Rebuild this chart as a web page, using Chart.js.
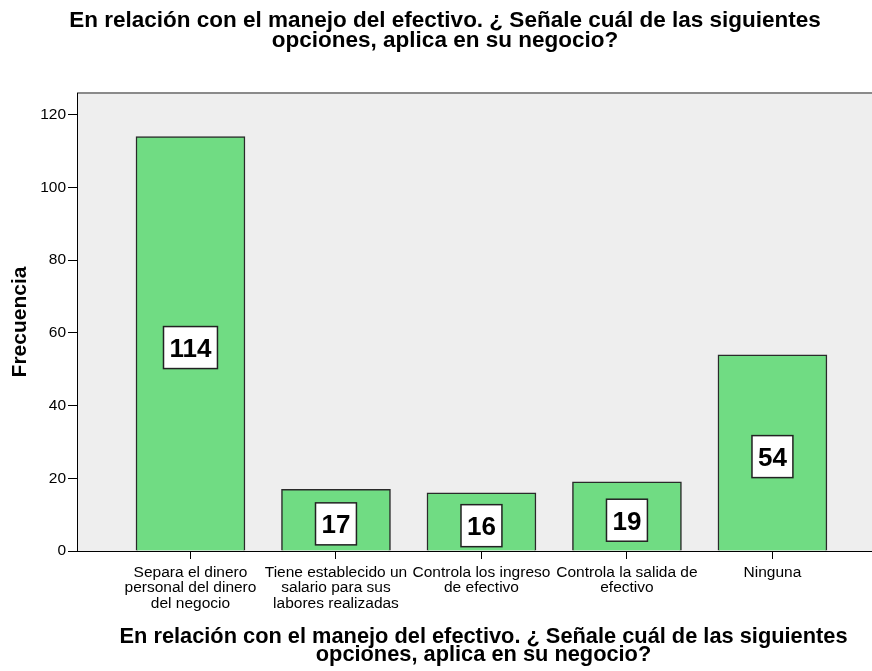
<!DOCTYPE html>
<html>
<head>
<meta charset="utf-8">
<script src="https://cdn.jsdelivr.net/npm/chart.js@4.4.1/dist/chart.umd.min.js"></script>
<style>
  html, body { margin: 0; padding: 0; background: #fff; overflow: hidden; }
  .wrap { width: 872px; height: 671px; overflow: hidden; }
</style>
</head>
<body>
<div class="wrap">
  <canvas id="myChart" width="890" height="671"></canvas>
</div>
<script>
// chart data
const titleLines = ["En relación con el manejo del efectivo. ¿ Señale cuál de las siguientes", "opciones, aplica en su negocio?"]
const categories = [
  ["Separa el dinero", "personal del dinero", "del negocio"],
  ["Tiene establecido un", "salario para sus", "labores realizadas"],
  ["Controla los ingreso", "de efectivo"],
  ["Controla la salida de", "efectivo"],
  ["Ninguna"]
]
const frecuencia = [114, 17, 16, 19, 54]
const yTicks = [0, 20, 40, 60, 80, 100, 120]

const ctx = document.getElementById("myChart")
const fontFam = "Arial, 'Liberation Sans', sans-serif"
Chart.defaults.color = "#000"
Chart.defaults.font.family = fontFam

// grey plot background + grey top border
const plotBg = {
  id: "plotBg",
  beforeDraw(chart) {
    const { ctx, chartArea: a } = chart
    ctx.save()
    ctx.fillStyle = "#eeeeee"
    ctx.fillRect(a.left, a.top, a.right - a.left, a.bottom - a.top)
    ctx.strokeStyle = "#8a8a8a"
    ctx.lineWidth = 2
    ctx.beginPath()
    ctx.moveTo(a.left, a.top)
    ctx.lineTo(a.right, a.top)
    ctx.stroke()
    ctx.restore()
  }
}

// white value boxes in the middle of each bar
const valueBoxes = {
  id: "valueBoxes",
  afterDatasetsDraw(chart) {
    const { ctx } = chart
    const meta = chart.getDatasetMeta(0)
    ctx.save()
    ctx.font = "bold 26px " + fontFam
    meta.data.forEach((bar, i) => {
      const txt = String(frecuencia[i])
      const w = ctx.measureText(txt).width + 12
      const h = 42
      const cx = bar.x
      const cy = (bar.y + bar.base) / 2 + 4
      ctx.fillStyle = "#fff"
      ctx.fillRect(cx - w / 2, cy - h / 2, w, h)
      ctx.strokeStyle = "#222"
      ctx.lineWidth = 1.5
      ctx.strokeRect(cx - w / 2, cy - h / 2, w, h)
      ctx.fillStyle = "#000"
      ctx.textAlign = "center"
      ctx.textBaseline = "alphabetic"
      ctx.fillText(txt, cx, cy + 9.5)
    })
    ctx.restore()
  }
}

const myChart = new Chart(ctx, {
  type: "bar",
  data: {
    datasets: [{
      label: "Frecuencia",
      data: frecuencia.map((v, i) => ({ x: i, y: v })),
      backgroundColor: "rgb(112, 220, 131)",
      borderColor: "#2a2a2a",
      borderWidth: 1.5,
      barThickness: 109
    }]
  },
  options: {
    responsive: false,
    animation: false,
    devicePixelRatio: 1,
    layout: { padding: 0 },
    plugins: {
      legend: { display: false },
      tooltip: { enabled: false },
      title: {
        display: true,
        text: titleLines,
        color: "#000",
        font: { size: 22.5, weight: "bold", lineHeight: "20px" },
        padding: { top: 11, bottom: 42 }
      }
    },
    scales: {
      x: {
        type: "linear",
        offset: false,
        min: -0.78,
        max: 4.808,
        afterBuildTicks: (scale) => {
          scale.ticks = categories.map((c, i) => ({ value: i }))
        },
        afterFit: (scale) => { scale.height = 120 },
        ticks: {
          autoSkip: false,
          maxRotation: 0,
          minRotation: 0,
          padding: 6,
          color: "#000",
          font: { size: 15.5, lineHeight: "15.3px" },
          callback: (value) => categories[value]
        },
        grid: {
          offset: false,
          drawOnChartArea: false,
          drawTicks: true,
          tickLength: 8,
          tickColor: "#000"
        },
        border: { display: true, color: "#000", width: 1 },
        title: {
          display: true,
          text: titleLines,
          color: "#000",
          font: { size: 21.8, weight: "bold", lineHeight: "18px" },
          padding: { top: 0, bottom: 7 }
        }
      },
      y: {
        min: 0,
        max: 126,
        afterBuildTicks: (scale) => {
          scale.ticks = yTicks.map(v => ({ value: v }))
        },
        afterFit: (scale) => { scale.width = 77 },
        ticks: {
          padding: 2,
          color: "#000",
          font: { size: 15.5 }
        },
        grid: {
          drawOnChartArea: false,
          drawTicks: true,
          tickLength: 9,
          tickColor: "#000"
        },
        border: { display: true, color: "#000", width: 1 },
        title: {
          display: true,
          text: "Frecuencia",
          color: "#000",
          font: { size: 21, weight: "bold", lineHeight: 1.2 },
          padding: { top: 8, bottom: 0 }
        }
      }
    }
  },
  plugins: [plotBg, valueBoxes]
})
</script>
</body>
</html>
